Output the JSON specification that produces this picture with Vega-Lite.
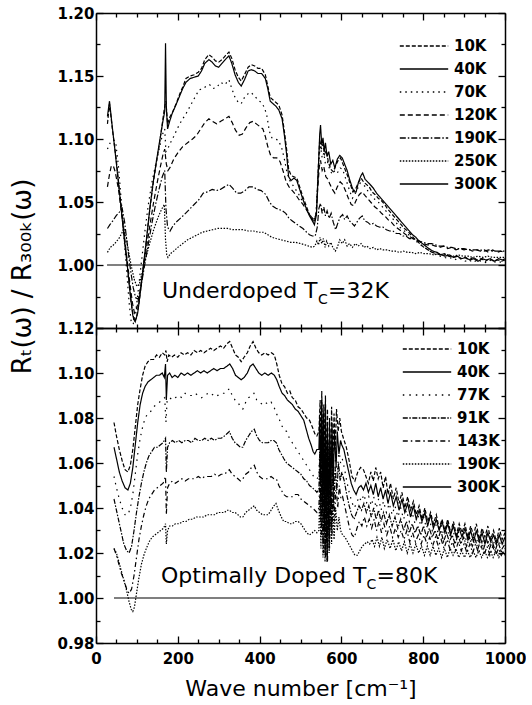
{
"$schema":"https://vega.github.io/schema/vega-lite/v6.json",
"padding":{"left":9,"top":6,"right":0,"bottom":0},
"spacing":0,
"bounds":"flush",
"datasets":{
"top":[
{"s":"10K","x":28,"y":1.112},{"s":"10K","x":33,"y":1.128},{"s":"10K","x":40,"y":1.108},{"s":"10K","x":49,"y":1.085},{"s":"10K","x":57,"y":1.06},{"s":"10K","x":65,"y":1.038},{"s":"10K","x":72,"y":1.015},{"s":"10K","x":78,"y":0.995},{"s":"10K","x":86,"y":0.97},{"s":"10K","x":93,"y":0.955},{"s":"10K","x":99,"y":0.958},{"s":"10K","x":106,"y":0.972},{"s":"10K","x":114,"y":0.993},{"s":"10K","x":122,"y":1.016},{"s":"10K","x":130,"y":1.04},{"s":"10K","x":139,"y":1.063},{"s":"10K","x":147,"y":1.08},{"s":"10K","x":155,"y":1.096},{"s":"10K","x":162,"y":1.112},{"s":"10K","x":167,"y":1.124},{"s":"10K","x":171,"y":1.13},{"s":"10K","x":175,"y":1.112},{"s":"10K","x":180,"y":1.117},{"s":"10K","x":188,"y":1.122},{"s":"10K","x":196,"y":1.128},{"s":"10K","x":205,"y":1.136},{"s":"10K","x":213,"y":1.142},{"s":"10K","x":220,"y":1.148},{"s":"10K","x":230,"y":1.15},{"s":"10K","x":240,"y":1.151},{"s":"10K","x":250,"y":1.153},{"s":"10K","x":258,"y":1.156},{"s":"10K","x":266,"y":1.163},{"s":"10K","x":276,"y":1.167},{"s":"10K","x":284,"y":1.165},{"s":"10K","x":292,"y":1.162},{"s":"10K","x":300,"y":1.161},{"s":"10K","x":308,"y":1.163},{"s":"10K","x":316,"y":1.166},{"s":"10K","x":325,"y":1.169},{"s":"10K","x":332,"y":1.164},{"s":"10K","x":340,"y":1.155},{"s":"10K","x":348,"y":1.149},{"s":"10K","x":355,"y":1.146},{"s":"10K","x":363,"y":1.151},{"s":"10K","x":372,"y":1.157},{"s":"10K","x":380,"y":1.159},{"s":"10K","x":388,"y":1.158},{"s":"10K","x":396,"y":1.156},{"s":"10K","x":405,"y":1.156},{"s":"10K","x":414,"y":1.151},{"s":"10K","x":420,"y":1.142},{"s":"10K","x":426,"y":1.133},{"s":"10K","x":433,"y":1.131},{"s":"10K","x":440,"y":1.129},{"s":"10K","x":447,"y":1.127},{"s":"10K","x":455,"y":1.119},{"s":"10K","x":461,"y":1.105},{"s":"10K","x":466,"y":1.092},{"s":"10K","x":471,"y":1.076},{"s":"10K","x":477,"y":1.071},{"s":"10K","x":484,"y":1.07},{"s":"10K","x":491,"y":1.069},{"s":"10K","x":498,"y":1.062},{"s":"10K","x":506,"y":1.054},{"s":"10K","x":514,"y":1.047},{"s":"10K","x":522,"y":1.04},{"s":"10K","x":529,"y":1.036},{"s":"10K","x":534,"y":1.034},{"s":"10K","x":539,"y":1.042},{"s":"10K","x":543,"y":1.075},{"s":"10K","x":547,"y":1.1},{"s":"10K","x":551,"y":1.092},{"s":"10K","x":555,"y":1.096},{"s":"10K","x":559,"y":1.088},{"s":"10K","x":563,"y":1.091},{"s":"10K","x":568,"y":1.082},{"s":"10K","x":574,"y":1.076},{"s":"10K","x":580,"y":1.074},{"s":"10K","x":586,"y":1.079},{"s":"10K","x":592,"y":1.083},{"s":"10K","x":598,"y":1.085},{"s":"10K","x":604,"y":1.08},{"s":"10K","x":610,"y":1.075},{"s":"10K","x":616,"y":1.07},{"s":"10K","x":622,"y":1.064},{"s":"10K","x":628,"y":1.058},{"s":"10K","x":634,"y":1.06},{"s":"10K","x":641,"y":1.065},{"s":"10K","x":648,"y":1.069},{"s":"10K","x":654,"y":1.066},{"s":"10K","x":661,"y":1.064},{"s":"10K","x":668,"y":1.062},{"s":"10K","x":675,"y":1.058},{"s":"10K","x":682,"y":1.056},{"s":"10K","x":690,"y":1.053},{"s":"10K","x":698,"y":1.051},{"s":"10K","x":706,"y":1.048},{"s":"10K","x":714,"y":1.044},{"s":"10K","x":722,"y":1.041},{"s":"10K","x":730,"y":1.038},{"s":"10K","x":738,"y":1.035},{"s":"10K","x":746,"y":1.032},{"s":"10K","x":754,"y":1.029},{"s":"10K","x":762,"y":1.027},{"s":"10K","x":770,"y":1.024},{"s":"10K","x":778,"y":1.021},{"s":"10K","x":786,"y":1.019},{"s":"10K","x":794,"y":1.016},{"s":"10K","x":802,"y":1.014},{"s":"10K","x":812,"y":1.012},{"s":"10K","x":822,"y":1.01},{"s":"10K","x":832,"y":1.009},{"s":"10K","x":842,"y":1.008},{"s":"10K","x":852,"y":1.009},{"s":"10K","x":862,"y":1.007},{"s":"10K","x":872,"y":1.006},{"s":"10K","x":882,"y":1.007},{"s":"10K","x":892,"y":1.005},{"s":"10K","x":902,"y":1.006},{"s":"10K","x":912,"y":1.004},{"s":"10K","x":922,"y":1.006},{"s":"10K","x":932,"y":1.004},{"s":"10K","x":942,"y":1.005},{"s":"10K","x":952,"y":1.003},{"s":"10K","x":962,"y":1.005},{"s":"10K","x":972,"y":1.003},{"s":"10K","x":982,"y":1.004},{"s":"10K","x":992,"y":1.003},{"s":"10K","x":1000,"y":1.004},
{"s":"40K","x":28,"y":1.118},{"s":"40K","x":33,"y":1.13},{"s":"40K","x":39,"y":1.112},{"s":"40K","x":46,"y":1.092},{"s":"40K","x":54,"y":1.068},{"s":"40K","x":62,"y":1.043},{"s":"40K","x":70,"y":1.018},{"s":"40K","x":77,"y":0.998},{"s":"40K","x":84,"y":0.976},{"s":"40K","x":90,"y":0.96},{"s":"40K","x":96,"y":0.955},{"s":"40K","x":102,"y":0.962},{"s":"40K","x":109,"y":0.98},{"s":"40K","x":116,"y":1.0},{"s":"40K","x":124,"y":1.022},{"s":"40K","x":132,"y":1.046},{"s":"40K","x":140,"y":1.066},{"s":"40K","x":148,"y":1.083},{"s":"40K","x":156,"y":1.099},{"s":"40K","x":163,"y":1.113},{"s":"40K","x":168,"y":1.122},{"s":"40K","x":170,"y":1.176},{"s":"40K","x":172,"y":1.125},{"s":"40K","x":175,"y":1.108},{"s":"40K","x":180,"y":1.114},{"s":"40K","x":186,"y":1.12},{"s":"40K","x":194,"y":1.126},{"s":"40K","x":203,"y":1.133},{"s":"40K","x":212,"y":1.14},{"s":"40K","x":220,"y":1.145},{"s":"40K","x":230,"y":1.148},{"s":"40K","x":240,"y":1.149},{"s":"40K","x":250,"y":1.15},{"s":"40K","x":258,"y":1.154},{"s":"40K","x":266,"y":1.16},{"s":"40K","x":276,"y":1.163},{"s":"40K","x":284,"y":1.161},{"s":"40K","x":292,"y":1.158},{"s":"40K","x":300,"y":1.157},{"s":"40K","x":308,"y":1.16},{"s":"40K","x":316,"y":1.163},{"s":"40K","x":325,"y":1.166},{"s":"40K","x":332,"y":1.16},{"s":"40K","x":340,"y":1.151},{"s":"40K","x":348,"y":1.145},{"s":"40K","x":355,"y":1.142},{"s":"40K","x":363,"y":1.147},{"s":"40K","x":372,"y":1.154},{"s":"40K","x":380,"y":1.155},{"s":"40K","x":388,"y":1.154},{"s":"40K","x":396,"y":1.152},{"s":"40K","x":405,"y":1.152},{"s":"40K","x":414,"y":1.148},{"s":"40K","x":420,"y":1.14},{"s":"40K","x":426,"y":1.13},{"s":"40K","x":433,"y":1.128},{"s":"40K","x":440,"y":1.126},{"s":"40K","x":447,"y":1.123},{"s":"40K","x":455,"y":1.116},{"s":"40K","x":461,"y":1.102},{"s":"40K","x":466,"y":1.088},{"s":"40K","x":471,"y":1.07},{"s":"40K","x":477,"y":1.067},{"s":"40K","x":484,"y":1.069},{"s":"40K","x":491,"y":1.067},{"s":"40K","x":498,"y":1.06},{"s":"40K","x":506,"y":1.052},{"s":"40K","x":514,"y":1.045},{"s":"40K","x":522,"y":1.039},{"s":"40K","x":529,"y":1.035},{"s":"40K","x":534,"y":1.032},{"s":"40K","x":539,"y":1.04},{"s":"40K","x":543,"y":1.07},{"s":"40K","x":547,"y":1.104},{"s":"40K","x":549,"y":1.111},{"s":"40K","x":552,"y":1.095},{"s":"40K","x":555,"y":1.101},{"s":"40K","x":558,"y":1.09},{"s":"40K","x":561,"y":1.097},{"s":"40K","x":565,"y":1.086},{"s":"40K","x":569,"y":1.09},{"s":"40K","x":574,"y":1.08},{"s":"40K","x":579,"y":1.083},{"s":"40K","x":584,"y":1.077},{"s":"40K","x":590,"y":1.084},{"s":"40K","x":596,"y":1.087},{"s":"40K","x":602,"y":1.085},{"s":"40K","x":608,"y":1.08},{"s":"40K","x":614,"y":1.075},{"s":"40K","x":620,"y":1.068},{"s":"40K","x":626,"y":1.062},{"s":"40K","x":631,"y":1.058},{"s":"40K","x":636,"y":1.058},{"s":"40K","x":642,"y":1.066},{"s":"40K","x":648,"y":1.071},{"s":"40K","x":652,"y":1.073},{"s":"40K","x":658,"y":1.068},{"s":"40K","x":664,"y":1.066},{"s":"40K","x":670,"y":1.064},{"s":"40K","x":678,"y":1.061},{"s":"40K","x":686,"y":1.057},{"s":"40K","x":694,"y":1.054},{"s":"40K","x":702,"y":1.051},{"s":"40K","x":710,"y":1.048},{"s":"40K","x":718,"y":1.045},{"s":"40K","x":726,"y":1.042},{"s":"40K","x":734,"y":1.039},{"s":"40K","x":742,"y":1.036},{"s":"40K","x":750,"y":1.033},{"s":"40K","x":758,"y":1.03},{"s":"40K","x":766,"y":1.027},{"s":"40K","x":774,"y":1.024},{"s":"40K","x":782,"y":1.022},{"s":"40K","x":790,"y":1.019},{"s":"40K","x":798,"y":1.017},{"s":"40K","x":806,"y":1.015},{"s":"40K","x":814,"y":1.013},{"s":"40K","x":824,"y":1.011},{"s":"40K","x":834,"y":1.01},{"s":"40K","x":844,"y":1.008},{"s":"40K","x":854,"y":1.007},{"s":"40K","x":864,"y":1.008},{"s":"40K","x":874,"y":1.006},{"s":"40K","x":884,"y":1.007},{"s":"40K","x":894,"y":1.005},{"s":"40K","x":904,"y":1.006},{"s":"40K","x":914,"y":1.004},{"s":"40K","x":924,"y":1.005},{"s":"40K","x":934,"y":1.003},{"s":"40K","x":944,"y":1.005},{"s":"40K","x":954,"y":1.004},{"s":"40K","x":964,"y":1.005},{"s":"40K","x":974,"y":1.003},{"s":"40K","x":984,"y":1.005},{"s":"40K","x":994,"y":1.004},{"s":"40K","x":1000,"y":1.005},
{"s":"70K","x":28,"y":1.092},{"s":"70K","x":36,"y":1.098},{"s":"70K","x":43,"y":1.099},{"s":"70K","x":48,"y":1.098},{"s":"70K","x":55,"y":1.078},{"s":"70K","x":62,"y":1.05},{"s":"70K","x":69,"y":1.02},{"s":"70K","x":75,"y":0.995},{"s":"70K","x":81,"y":0.97},{"s":"70K","x":86,"y":0.955},{"s":"70K","x":91,"y":0.953},{"s":"70K","x":97,"y":0.962},{"s":"70K","x":104,"y":0.982},{"s":"70K","x":112,"y":1.005},{"s":"70K","x":120,"y":1.028},{"s":"70K","x":128,"y":1.048},{"s":"70K","x":137,"y":1.066},{"s":"70K","x":146,"y":1.08},{"s":"70K","x":155,"y":1.093},{"s":"70K","x":163,"y":1.104},{"s":"70K","x":168,"y":1.108},{"s":"70K","x":171,"y":1.09},{"s":"70K","x":175,"y":1.092},{"s":"70K","x":182,"y":1.097},{"s":"70K","x":190,"y":1.102},{"s":"70K","x":200,"y":1.109},{"s":"70K","x":210,"y":1.115},{"s":"70K","x":220,"y":1.12},{"s":"70K","x":230,"y":1.126},{"s":"70K","x":240,"y":1.132},{"s":"70K","x":252,"y":1.139},{"s":"70K","x":262,"y":1.14},{"s":"70K","x":270,"y":1.142},{"s":"70K","x":278,"y":1.143},{"s":"70K","x":286,"y":1.14},{"s":"70K","x":295,"y":1.141},{"s":"70K","x":305,"y":1.145},{"s":"70K","x":315,"y":1.143},{"s":"70K","x":325,"y":1.147},{"s":"70K","x":332,"y":1.14},{"s":"70K","x":340,"y":1.133},{"s":"70K","x":348,"y":1.129},{"s":"70K","x":355,"y":1.128},{"s":"70K","x":363,"y":1.133},{"s":"70K","x":372,"y":1.136},{"s":"70K","x":379,"y":1.137},{"s":"70K","x":388,"y":1.134},{"s":"70K","x":396,"y":1.131},{"s":"70K","x":404,"y":1.129},{"s":"70K","x":412,"y":1.125},{"s":"70K","x":418,"y":1.118},{"s":"70K","x":424,"y":1.106},{"s":"70K","x":430,"y":1.101},{"s":"70K","x":438,"y":1.1},{"s":"70K","x":446,"y":1.099},{"s":"70K","x":454,"y":1.093},{"s":"70K","x":460,"y":1.085},{"s":"70K","x":466,"y":1.075},{"s":"70K","x":472,"y":1.068},{"s":"70K","x":480,"y":1.064},{"s":"70K","x":488,"y":1.06},{"s":"70K","x":496,"y":1.056},{"s":"70K","x":504,"y":1.051},{"s":"70K","x":512,"y":1.046},{"s":"70K","x":520,"y":1.041},{"s":"70K","x":527,"y":1.037},{"s":"70K","x":533,"y":1.035},{"s":"70K","x":538,"y":1.04},{"s":"70K","x":542,"y":1.065},{"s":"70K","x":546,"y":1.088},{"s":"70K","x":549,"y":1.094},{"s":"70K","x":553,"y":1.085},{"s":"70K","x":557,"y":1.089},{"s":"70K","x":561,"y":1.08},{"s":"70K","x":566,"y":1.082},{"s":"70K","x":572,"y":1.075},{"s":"70K","x":578,"y":1.072},{"s":"70K","x":584,"y":1.075},{"s":"70K","x":590,"y":1.073},{"s":"70K","x":597,"y":1.077},{"s":"70K","x":603,"y":1.076},{"s":"70K","x":609,"y":1.07},{"s":"70K","x":615,"y":1.064},{"s":"70K","x":621,"y":1.058},{"s":"70K","x":627,"y":1.053},{"s":"70K","x":633,"y":1.056},{"s":"70K","x":640,"y":1.061},{"s":"70K","x":646,"y":1.065},{"s":"70K","x":652,"y":1.064},{"s":"70K","x":659,"y":1.062},{"s":"70K","x":666,"y":1.058},{"s":"70K","x":674,"y":1.055},{"s":"70K","x":682,"y":1.052},{"s":"70K","x":690,"y":1.05},{"s":"70K","x":698,"y":1.047},{"s":"70K","x":706,"y":1.044},{"s":"70K","x":714,"y":1.041},{"s":"70K","x":722,"y":1.038},{"s":"70K","x":730,"y":1.035},{"s":"70K","x":738,"y":1.032},{"s":"70K","x":746,"y":1.029},{"s":"70K","x":754,"y":1.027},{"s":"70K","x":762,"y":1.025},{"s":"70K","x":770,"y":1.022},{"s":"70K","x":778,"y":1.02},{"s":"70K","x":786,"y":1.018},{"s":"70K","x":794,"y":1.016},{"s":"70K","x":802,"y":1.014},{"s":"70K","x":812,"y":1.012},{"s":"70K","x":822,"y":1.01},{"s":"70K","x":832,"y":1.008},{"s":"70K","x":842,"y":1.007},{"s":"70K","x":852,"y":1.006},{"s":"70K","x":862,"y":1.005},{"s":"70K","x":872,"y":1.006},{"s":"70K","x":882,"y":1.004},{"s":"70K","x":892,"y":1.005},{"s":"70K","x":902,"y":1.003},{"s":"70K","x":912,"y":1.004},{"s":"70K","x":922,"y":1.002},{"s":"70K","x":932,"y":1.004},{"s":"70K","x":942,"y":1.003},{"s":"70K","x":952,"y":1.002},{"s":"70K","x":962,"y":1.004},{"s":"70K","x":972,"y":1.002},{"s":"70K","x":982,"y":1.003},{"s":"70K","x":992,"y":1.002},{"s":"70K","x":1000,"y":1.003},
{"s":"120K","x":28,"y":1.062},{"s":"120K","x":33,"y":1.072},{"s":"120K","x":37,"y":1.078},{"s":"120K","x":42,"y":1.079},{"s":"120K","x":47,"y":1.074},{"s":"120K","x":55,"y":1.06},{"s":"120K","x":63,"y":1.04},{"s":"120K","x":70,"y":1.02},{"s":"120K","x":77,"y":1.002},{"s":"120K","x":83,"y":0.985},{"s":"120K","x":89,"y":0.97},{"s":"120K","x":94,"y":0.962},{"s":"120K","x":100,"y":0.966},{"s":"120K","x":107,"y":0.978},{"s":"120K","x":115,"y":0.995},{"s":"120K","x":123,"y":1.013},{"s":"120K","x":132,"y":1.032},{"s":"120K","x":141,"y":1.05},{"s":"120K","x":150,"y":1.066},{"s":"120K","x":158,"y":1.079},{"s":"120K","x":164,"y":1.088},{"s":"120K","x":168,"y":1.092},{"s":"120K","x":172,"y":1.08},{"s":"120K","x":176,"y":1.075},{"s":"120K","x":182,"y":1.078},{"s":"120K","x":190,"y":1.084},{"s":"120K","x":200,"y":1.089},{"s":"120K","x":212,"y":1.094},{"s":"120K","x":224,"y":1.097},{"s":"120K","x":236,"y":1.1},{"s":"120K","x":246,"y":1.103},{"s":"120K","x":256,"y":1.108},{"s":"120K","x":266,"y":1.113},{"s":"120K","x":276,"y":1.116},{"s":"120K","x":285,"y":1.114},{"s":"120K","x":295,"y":1.112},{"s":"120K","x":305,"y":1.114},{"s":"120K","x":315,"y":1.116},{"s":"120K","x":325,"y":1.118},{"s":"120K","x":333,"y":1.113},{"s":"120K","x":341,"y":1.107},{"s":"120K","x":350,"y":1.103},{"s":"120K","x":358,"y":1.104},{"s":"120K","x":367,"y":1.109},{"s":"120K","x":376,"y":1.113},{"s":"120K","x":384,"y":1.114},{"s":"120K","x":392,"y":1.112},{"s":"120K","x":400,"y":1.11},{"s":"120K","x":408,"y":1.108},{"s":"120K","x":414,"y":1.102},{"s":"120K","x":420,"y":1.094},{"s":"120K","x":427,"y":1.087},{"s":"120K","x":434,"y":1.085},{"s":"120K","x":442,"y":1.085},{"s":"120K","x":450,"y":1.082},{"s":"120K","x":458,"y":1.074},{"s":"120K","x":465,"y":1.066},{"s":"120K","x":472,"y":1.062},{"s":"120K","x":480,"y":1.059},{"s":"120K","x":488,"y":1.056},{"s":"120K","x":496,"y":1.052},{"s":"120K","x":504,"y":1.049},{"s":"120K","x":512,"y":1.045},{"s":"120K","x":520,"y":1.041},{"s":"120K","x":527,"y":1.038},{"s":"120K","x":533,"y":1.036},{"s":"120K","x":538,"y":1.04},{"s":"120K","x":542,"y":1.06},{"s":"120K","x":546,"y":1.078},{"s":"120K","x":549,"y":1.083},{"s":"120K","x":553,"y":1.075},{"s":"120K","x":557,"y":1.078},{"s":"120K","x":562,"y":1.07},{"s":"120K","x":567,"y":1.068},{"s":"120K","x":572,"y":1.064},{"s":"120K","x":578,"y":1.06},{"s":"120K","x":584,"y":1.057},{"s":"120K","x":590,"y":1.062},{"s":"120K","x":597,"y":1.066},{"s":"120K","x":603,"y":1.064},{"s":"120K","x":610,"y":1.059},{"s":"120K","x":617,"y":1.053},{"s":"120K","x":624,"y":1.048},{"s":"120K","x":630,"y":1.047},{"s":"120K","x":637,"y":1.052},{"s":"120K","x":644,"y":1.056},{"s":"120K","x":651,"y":1.058},{"s":"120K","x":658,"y":1.055},{"s":"120K","x":666,"y":1.052},{"s":"120K","x":674,"y":1.049},{"s":"120K","x":682,"y":1.046},{"s":"120K","x":690,"y":1.044},{"s":"120K","x":698,"y":1.041},{"s":"120K","x":706,"y":1.039},{"s":"120K","x":714,"y":1.036},{"s":"120K","x":722,"y":1.034},{"s":"120K","x":730,"y":1.031},{"s":"120K","x":738,"y":1.029},{"s":"120K","x":746,"y":1.027},{"s":"120K","x":754,"y":1.025},{"s":"120K","x":762,"y":1.023},{"s":"120K","x":770,"y":1.022},{"s":"120K","x":780,"y":1.02},{"s":"120K","x":790,"y":1.019},{"s":"120K","x":800,"y":1.017},{"s":"120K","x":810,"y":1.016},{"s":"120K","x":820,"y":1.016},{"s":"120K","x":830,"y":1.015},{"s":"120K","x":840,"y":1.014},{"s":"120K","x":850,"y":1.015},{"s":"120K","x":860,"y":1.013},{"s":"120K","x":870,"y":1.014},{"s":"120K","x":880,"y":1.012},{"s":"120K","x":890,"y":1.013},{"s":"120K","x":900,"y":1.012},{"s":"120K","x":910,"y":1.013},{"s":"120K","x":920,"y":1.011},{"s":"120K","x":930,"y":1.012},{"s":"120K","x":940,"y":1.011},{"s":"120K","x":950,"y":1.012},{"s":"120K","x":960,"y":1.01},{"s":"120K","x":970,"y":1.012},{"s":"120K","x":980,"y":1.01},{"s":"120K","x":990,"y":1.011},{"s":"120K","x":1000,"y":1.01},
{"s":"190K","x":28,"y":1.029},{"s":"190K","x":34,"y":1.032},{"s":"190K","x":41,"y":1.035},{"s":"190K","x":49,"y":1.039},{"s":"190K","x":57,"y":1.042},{"s":"190K","x":64,"y":1.045},{"s":"190K","x":70,"y":1.034},{"s":"190K","x":77,"y":1.015},{"s":"190K","x":84,"y":0.997},{"s":"190K","x":91,"y":0.982},{"s":"190K","x":97,"y":0.974},{"s":"190K","x":103,"y":0.973},{"s":"190K","x":110,"y":0.983},{"s":"190K","x":118,"y":0.998},{"s":"190K","x":127,"y":1.015},{"s":"190K","x":136,"y":1.032},{"s":"190K","x":145,"y":1.047},{"s":"190K","x":154,"y":1.06},{"s":"190K","x":162,"y":1.07},{"s":"190K","x":168,"y":1.075},{"s":"190K","x":171,"y":1.045},{"s":"190K","x":175,"y":1.03},{"s":"190K","x":181,"y":1.027},{"s":"190K","x":188,"y":1.031},{"s":"190K","x":196,"y":1.034},{"s":"190K","x":206,"y":1.037},{"s":"190K","x":216,"y":1.04},{"s":"190K","x":228,"y":1.044},{"s":"190K","x":240,"y":1.048},{"s":"190K","x":252,"y":1.052},{"s":"190K","x":262,"y":1.057},{"s":"190K","x":272,"y":1.058},{"s":"190K","x":284,"y":1.06},{"s":"190K","x":294,"y":1.059},{"s":"190K","x":304,"y":1.06},{"s":"190K","x":314,"y":1.062},{"s":"190K","x":325,"y":1.064},{"s":"190K","x":334,"y":1.061},{"s":"190K","x":344,"y":1.057},{"s":"190K","x":354,"y":1.057},{"s":"190K","x":364,"y":1.059},{"s":"190K","x":374,"y":1.062},{"s":"190K","x":384,"y":1.062},{"s":"190K","x":394,"y":1.06},{"s":"190K","x":404,"y":1.059},{"s":"190K","x":415,"y":1.056},{"s":"190K","x":424,"y":1.05},{"s":"190K","x":431,"y":1.047},{"s":"190K","x":440,"y":1.045},{"s":"190K","x":448,"y":1.044},{"s":"190K","x":456,"y":1.043},{"s":"190K","x":464,"y":1.041},{"s":"190K","x":472,"y":1.037},{"s":"190K","x":480,"y":1.035},{"s":"190K","x":488,"y":1.033},{"s":"190K","x":497,"y":1.031},{"s":"190K","x":506,"y":1.029},{"s":"190K","x":515,"y":1.026},{"s":"190K","x":522,"y":1.024},{"s":"190K","x":529,"y":1.023},{"s":"190K","x":536,"y":1.023},{"s":"190K","x":541,"y":1.03},{"s":"190K","x":545,"y":1.045},{"s":"190K","x":549,"y":1.049},{"s":"190K","x":553,"y":1.041},{"s":"190K","x":557,"y":1.046},{"s":"190K","x":561,"y":1.039},{"s":"190K","x":565,"y":1.043},{"s":"190K","x":570,"y":1.037},{"s":"190K","x":575,"y":1.041},{"s":"190K","x":580,"y":1.034},{"s":"190K","x":586,"y":1.028},{"s":"190K","x":591,"y":1.033},{"s":"190K","x":597,"y":1.038},{"s":"190K","x":603,"y":1.04},{"s":"190K","x":608,"y":1.036},{"s":"190K","x":614,"y":1.039},{"s":"190K","x":620,"y":1.035},{"s":"190K","x":626,"y":1.033},{"s":"190K","x":632,"y":1.031},{"s":"190K","x":638,"y":1.034},{"s":"190K","x":644,"y":1.037},{"s":"190K","x":651,"y":1.039},{"s":"190K","x":657,"y":1.035},{"s":"190K","x":664,"y":1.034},{"s":"190K","x":671,"y":1.032},{"s":"190K","x":678,"y":1.033},{"s":"190K","x":686,"y":1.031},{"s":"190K","x":694,"y":1.03},{"s":"190K","x":702,"y":1.03},{"s":"190K","x":710,"y":1.028},{"s":"190K","x":718,"y":1.027},{"s":"190K","x":726,"y":1.027},{"s":"190K","x":734,"y":1.025},{"s":"190K","x":742,"y":1.025},{"s":"190K","x":750,"y":1.023},{"s":"190K","x":758,"y":1.023},{"s":"190K","x":766,"y":1.021},{"s":"190K","x":774,"y":1.021},{"s":"190K","x":782,"y":1.02},{"s":"190K","x":790,"y":1.019},{"s":"190K","x":800,"y":1.018},{"s":"190K","x":810,"y":1.017},{"s":"190K","x":820,"y":1.017},{"s":"190K","x":830,"y":1.016},{"s":"190K","x":840,"y":1.015},{"s":"190K","x":850,"y":1.015},{"s":"190K","x":860,"y":1.014},{"s":"190K","x":870,"y":1.014},{"s":"190K","x":880,"y":1.013},{"s":"190K","x":890,"y":1.013},{"s":"190K","x":900,"y":1.013},{"s":"190K","x":910,"y":1.012},{"s":"190K","x":920,"y":1.012},{"s":"190K","x":930,"y":1.012},{"s":"190K","x":940,"y":1.012},{"s":"190K","x":950,"y":1.011},{"s":"190K","x":960,"y":1.012},{"s":"190K","x":970,"y":1.011},{"s":"190K","x":980,"y":1.011},{"s":"190K","x":990,"y":1.011},{"s":"190K","x":1000,"y":1.011},
{"s":"250K","x":28,"y":1.01},{"s":"250K","x":35,"y":1.014},{"s":"250K","x":43,"y":1.016},{"s":"250K","x":51,"y":1.019},{"s":"250K","x":58,"y":1.022},{"s":"250K","x":64,"y":1.026},{"s":"250K","x":68,"y":1.029},{"s":"250K","x":74,"y":1.022},{"s":"250K","x":80,"y":1.01},{"s":"250K","x":87,"y":0.998},{"s":"250K","x":94,"y":0.988},{"s":"250K","x":100,"y":0.983},{"s":"250K","x":106,"y":0.985},{"s":"250K","x":113,"y":0.994},{"s":"250K","x":122,"y":1.006},{"s":"250K","x":132,"y":1.018},{"s":"250K","x":142,"y":1.029},{"s":"250K","x":152,"y":1.038},{"s":"250K","x":160,"y":1.044},{"s":"250K","x":167,"y":1.048},{"s":"250K","x":170,"y":1.02},{"s":"250K","x":173,"y":1.008},{"s":"250K","x":176,"y":1.006},{"s":"250K","x":182,"y":1.009},{"s":"250K","x":190,"y":1.011},{"s":"250K","x":200,"y":1.014},{"s":"250K","x":212,"y":1.017},{"s":"250K","x":224,"y":1.02},{"s":"250K","x":236,"y":1.022},{"s":"250K","x":248,"y":1.024},{"s":"250K","x":260,"y":1.026},{"s":"250K","x":272,"y":1.027},{"s":"250K","x":285,"y":1.028},{"s":"250K","x":298,"y":1.029},{"s":"250K","x":310,"y":1.029},{"s":"250K","x":322,"y":1.029},{"s":"250K","x":335,"y":1.028},{"s":"250K","x":348,"y":1.028},{"s":"250K","x":360,"y":1.028},{"s":"250K","x":372,"y":1.027},{"s":"250K","x":385,"y":1.027},{"s":"250K","x":398,"y":1.026},{"s":"250K","x":410,"y":1.026},{"s":"250K","x":420,"y":1.024},{"s":"250K","x":430,"y":1.022},{"s":"250K","x":440,"y":1.021},{"s":"250K","x":452,"y":1.02},{"s":"250K","x":464,"y":1.019},{"s":"250K","x":476,"y":1.018},{"s":"250K","x":488,"y":1.018},{"s":"250K","x":500,"y":1.017},{"s":"250K","x":511,"y":1.016},{"s":"250K","x":520,"y":1.015},{"s":"250K","x":529,"y":1.014},{"s":"250K","x":535,"y":1.015},{"s":"250K","x":540,"y":1.019},{"s":"250K","x":544,"y":1.016},{"s":"250K","x":548,"y":1.022},{"s":"250K","x":552,"y":1.017},{"s":"250K","x":556,"y":1.021},{"s":"250K","x":560,"y":1.014},{"s":"250K","x":564,"y":1.019},{"s":"250K","x":569,"y":1.015},{"s":"250K","x":574,"y":1.018},{"s":"250K","x":579,"y":1.014},{"s":"250K","x":585,"y":1.011},{"s":"250K","x":590,"y":1.014},{"s":"250K","x":596,"y":1.02},{"s":"250K","x":602,"y":1.017},{"s":"250K","x":608,"y":1.02},{"s":"250K","x":614,"y":1.015},{"s":"250K","x":620,"y":1.017},{"s":"250K","x":627,"y":1.014},{"s":"250K","x":634,"y":1.017},{"s":"250K","x":641,"y":1.015},{"s":"250K","x":648,"y":1.017},{"s":"250K","x":655,"y":1.014},{"s":"250K","x":662,"y":1.015},{"s":"250K","x":670,"y":1.013},{"s":"250K","x":678,"y":1.014},{"s":"250K","x":686,"y":1.012},{"s":"250K","x":694,"y":1.013},{"s":"250K","x":702,"y":1.012},{"s":"250K","x":712,"y":1.012},{"s":"250K","x":722,"y":1.011},{"s":"250K","x":732,"y":1.011},{"s":"250K","x":742,"y":1.01},{"s":"250K","x":752,"y":1.011},{"s":"250K","x":762,"y":1.01},{"s":"250K","x":772,"y":1.01},{"s":"250K","x":782,"y":1.009},{"s":"250K","x":792,"y":1.01},{"s":"250K","x":802,"y":1.009},{"s":"250K","x":814,"y":1.009},{"s":"250K","x":826,"y":1.008},{"s":"250K","x":838,"y":1.009},{"s":"250K","x":850,"y":1.008},{"s":"250K","x":862,"y":1.008},{"s":"250K","x":874,"y":1.007},{"s":"250K","x":886,"y":1.008},{"s":"250K","x":898,"y":1.007},{"s":"250K","x":910,"y":1.007},{"s":"250K","x":922,"y":1.006},{"s":"250K","x":934,"y":1.007},{"s":"250K","x":946,"y":1.006},{"s":"250K","x":958,"y":1.007},{"s":"250K","x":970,"y":1.006},{"s":"250K","x":982,"y":1.006},{"s":"250K","x":994,"y":1.006},{"s":"250K","x":1000,"y":1.006},
{"s":"300K","x":27,"y":1.0},{"s":"300K","x":1000,"y":1.0}
],
"bot":[
{"s":"10K","x":44,"y":1.078},{"s":"10K","x":50,"y":1.072},{"s":"10K","x":57,"y":1.066},{"s":"10K","x":64,"y":1.061},{"s":"10K","x":71,"y":1.057},{"s":"10K","x":78,"y":1.056},{"s":"10K","x":84,"y":1.059},{"s":"10K","x":90,"y":1.066},{"s":"10K","x":96,"y":1.076},{"s":"10K","x":102,"y":1.086},{"s":"10K","x":108,"y":1.093},{"s":"10K","x":114,"y":1.099},{"s":"10K","x":120,"y":1.103},{"s":"10K","x":127,"y":1.105},{"s":"10K","x":134,"y":1.106},{"s":"10K","x":141,"y":1.106},{"s":"10K","x":148,"y":1.108},{"s":"10K","x":155,"y":1.107},{"s":"10K","x":162,"y":1.109},{"s":"10K","x":168,"y":1.108},{"s":"10K","x":171,"y":1.11},{"s":"10K","x":174,"y":1.105},{"s":"10K","x":178,"y":1.108},{"s":"10K","x":185,"y":1.107},{"s":"10K","x":192,"y":1.108},{"s":"10K","x":200,"y":1.107},{"s":"10K","x":208,"y":1.109},{"s":"10K","x":216,"y":1.108},{"s":"10K","x":224,"y":1.109},{"s":"10K","x":232,"y":1.108},{"s":"10K","x":240,"y":1.11},{"s":"10K","x":248,"y":1.109},{"s":"10K","x":256,"y":1.11},{"s":"10K","x":264,"y":1.109},{"s":"10K","x":272,"y":1.11},{"s":"10K","x":280,"y":1.111},{"s":"10K","x":288,"y":1.11},{"s":"10K","x":296,"y":1.111},{"s":"10K","x":304,"y":1.112},{"s":"10K","x":312,"y":1.111},{"s":"10K","x":320,"y":1.113},{"s":"10K","x":327,"y":1.114},{"s":"10K","x":334,"y":1.111},{"s":"10K","x":341,"y":1.108},{"s":"10K","x":348,"y":1.107},{"s":"10K","x":355,"y":1.105},{"s":"10K","x":362,"y":1.107},{"s":"10K","x":370,"y":1.109},{"s":"10K","x":377,"y":1.112},{"s":"10K","x":384,"y":1.114},{"s":"10K","x":391,"y":1.111},{"s":"10K","x":398,"y":1.109},{"s":"10K","x":405,"y":1.108},{"s":"10K","x":413,"y":1.109},{"s":"10K","x":421,"y":1.108},{"s":"10K","x":429,"y":1.109},{"s":"10K","x":436,"y":1.108},{"s":"10K","x":442,"y":1.104},{"s":"10K","x":448,"y":1.099},{"s":"10K","x":455,"y":1.095},{"s":"10K","x":461,"y":1.094},{"s":"10K","x":468,"y":1.091},{"s":"10K","x":474,"y":1.092},{"s":"10K","x":480,"y":1.089},{"s":"10K","x":487,"y":1.088},{"s":"10K","x":494,"y":1.085},{"s":"10K","x":501,"y":1.084},{"s":"10K","x":508,"y":1.082},{"s":"10K","x":515,"y":1.08},{"s":"10K","x":522,"y":1.079},{"s":"10K","x":529,"y":1.076},{"s":"10K","x":535,"y":1.073},{"s":"10K","x":540,"y":1.072},{"s":"10K","x":545,"y":1.074},{"s":"10K","x":548,"y":1.088},{"s":"10K","x":550,"y":1.062},{"s":"10K","x":552,"y":1.092},{"s":"10K","x":555,"y":1.055},{"s":"10K","x":557,"y":1.086},{"s":"10K","x":559,"y":1.048},{"s":"10K","x":561,"y":1.09},{"s":"10K","x":563,"y":1.04},{"s":"10K","x":566,"y":1.084},{"s":"10K","x":568,"y":1.035},{"s":"10K","x":571,"y":1.08},{"s":"10K","x":573,"y":1.045},{"s":"10K","x":576,"y":1.085},{"s":"10K","x":579,"y":1.058},{"s":"10K","x":582,"y":1.082},{"s":"10K","x":585,"y":1.066},{"s":"10K","x":588,"y":1.084},{"s":"10K","x":592,"y":1.074},{"s":"10K","x":596,"y":1.08},{"s":"10K","x":600,"y":1.074},{"s":"10K","x":605,"y":1.071},{"s":"10K","x":612,"y":1.067},{"s":"10K","x":619,"y":1.061},{"s":"10K","x":626,"y":1.054},{"s":"10K","x":633,"y":1.052},{"s":"10K","x":640,"y":1.056},{"s":"10K","x":647,"y":1.058},{"s":"10K","x":654,"y":1.057},{"s":"10K","x":660,"y":1.054},{"s":"10K","x":666,"y":1.051},{"s":"10K","x":672,"y":1.056},{"s":"10K","x":678,"y":1.052},{"s":"10K","x":684,"y":1.058},{"s":"10K","x":690,"y":1.053},{"s":"10K","x":696,"y":1.056},{"s":"10K","x":702,"y":1.049},{"s":"10K","x":708,"y":1.054},{"s":"10K","x":714,"y":1.046},{"s":"10K","x":720,"y":1.051},{"s":"10K","x":727,"y":1.044},{"s":"10K","x":734,"y":1.049},{"s":"10K","x":741,"y":1.042},{"s":"10K","x":748,"y":1.047},{"s":"10K","x":755,"y":1.04},{"s":"10K","x":762,"y":1.045},{"s":"10K","x":769,"y":1.039},{"s":"10K","x":776,"y":1.043},{"s":"10K","x":783,"y":1.037},{"s":"10K","x":790,"y":1.041},{"s":"10K","x":797,"y":1.035},{"s":"10K","x":804,"y":1.04},{"s":"10K","x":811,"y":1.034},{"s":"10K","x":818,"y":1.038},{"s":"10K","x":825,"y":1.033},{"s":"10K","x":832,"y":1.037},{"s":"10K","x":839,"y":1.031},{"s":"10K","x":846,"y":1.035},{"s":"10K","x":853,"y":1.03},{"s":"10K","x":860,"y":1.035},{"s":"10K","x":867,"y":1.029},{"s":"10K","x":874,"y":1.034},{"s":"10K","x":881,"y":1.028},{"s":"10K","x":888,"y":1.033},{"s":"10K","x":895,"y":1.029},{"s":"10K","x":902,"y":1.033},{"s":"10K","x":909,"y":1.027},{"s":"10K","x":916,"y":1.032},{"s":"10K","x":923,"y":1.028},{"s":"10K","x":930,"y":1.033},{"s":"10K","x":937,"y":1.026},{"s":"10K","x":944,"y":1.031},{"s":"10K","x":951,"y":1.027},{"s":"10K","x":958,"y":1.032},{"s":"10K","x":965,"y":1.026},{"s":"10K","x":972,"y":1.03},{"s":"10K","x":979,"y":1.025},{"s":"10K","x":986,"y":1.031},{"s":"10K","x":993,"y":1.026},{"s":"10K","x":1000,"y":1.029},
{"s":"40K","x":44,"y":1.067},{"s":"40K","x":50,"y":1.062},{"s":"40K","x":57,"y":1.056},{"s":"40K","x":64,"y":1.052},{"s":"40K","x":71,"y":1.049},{"s":"40K","x":78,"y":1.048},{"s":"40K","x":84,"y":1.051},{"s":"40K","x":90,"y":1.058},{"s":"40K","x":96,"y":1.068},{"s":"40K","x":102,"y":1.078},{"s":"40K","x":108,"y":1.086},{"s":"40K","x":114,"y":1.091},{"s":"40K","x":120,"y":1.094},{"s":"40K","x":127,"y":1.096},{"s":"40K","x":134,"y":1.097},{"s":"40K","x":141,"y":1.098},{"s":"40K","x":148,"y":1.099},{"s":"40K","x":155,"y":1.099},{"s":"40K","x":162,"y":1.1},{"s":"40K","x":167,"y":1.098},{"s":"40K","x":170,"y":1.104},{"s":"40K","x":172,"y":1.088},{"s":"40K","x":175,"y":1.099},{"s":"40K","x":180,"y":1.1},{"s":"40K","x":186,"y":1.098},{"s":"40K","x":193,"y":1.099},{"s":"40K","x":200,"y":1.098},{"s":"40K","x":208,"y":1.1},{"s":"40K","x":216,"y":1.099},{"s":"40K","x":224,"y":1.1},{"s":"40K","x":232,"y":1.099},{"s":"40K","x":240,"y":1.1},{"s":"40K","x":248,"y":1.101},{"s":"40K","x":256,"y":1.1},{"s":"40K","x":264,"y":1.101},{"s":"40K","x":272,"y":1.1},{"s":"40K","x":280,"y":1.101},{"s":"40K","x":288,"y":1.102},{"s":"40K","x":296,"y":1.101},{"s":"40K","x":304,"y":1.102},{"s":"40K","x":312,"y":1.102},{"s":"40K","x":320,"y":1.103},{"s":"40K","x":327,"y":1.104},{"s":"40K","x":334,"y":1.102},{"s":"40K","x":341,"y":1.099},{"s":"40K","x":348,"y":1.098},{"s":"40K","x":355,"y":1.097},{"s":"40K","x":362,"y":1.098},{"s":"40K","x":370,"y":1.1},{"s":"40K","x":377,"y":1.103},{"s":"40K","x":384,"y":1.104},{"s":"40K","x":391,"y":1.102},{"s":"40K","x":398,"y":1.1},{"s":"40K","x":405,"y":1.099},{"s":"40K","x":413,"y":1.1},{"s":"40K","x":421,"y":1.099},{"s":"40K","x":429,"y":1.1},{"s":"40K","x":436,"y":1.099},{"s":"40K","x":442,"y":1.097},{"s":"40K","x":448,"y":1.094},{"s":"40K","x":455,"y":1.091},{"s":"40K","x":461,"y":1.09},{"s":"40K","x":468,"y":1.088},{"s":"40K","x":474,"y":1.087},{"s":"40K","x":480,"y":1.086},{"s":"40K","x":487,"y":1.084},{"s":"40K","x":494,"y":1.083},{"s":"40K","x":501,"y":1.081},{"s":"40K","x":508,"y":1.079},{"s":"40K","x":514,"y":1.075},{"s":"40K","x":520,"y":1.071},{"s":"40K","x":526,"y":1.068},{"s":"40K","x":531,"y":1.065},{"s":"40K","x":535,"y":1.064},{"s":"40K","x":540,"y":1.066},{"s":"40K","x":545,"y":1.066},{"s":"40K","x":547,"y":1.08},{"s":"40K","x":549,"y":1.052},{"s":"40K","x":552,"y":1.088},{"s":"40K","x":554,"y":1.04},{"s":"40K","x":556,"y":1.082},{"s":"40K","x":559,"y":1.03},{"s":"40K","x":561,"y":1.086},{"s":"40K","x":564,"y":1.025},{"s":"40K","x":566,"y":1.078},{"s":"40K","x":569,"y":1.03},{"s":"40K","x":572,"y":1.075},{"s":"40K","x":574,"y":1.04},{"s":"40K","x":577,"y":1.078},{"s":"40K","x":580,"y":1.05},{"s":"40K","x":583,"y":1.074},{"s":"40K","x":587,"y":1.058},{"s":"40K","x":590,"y":1.074},{"s":"40K","x":594,"y":1.064},{"s":"40K","x":598,"y":1.07},{"s":"40K","x":601,"y":1.068},{"s":"40K","x":606,"y":1.066},{"s":"40K","x":612,"y":1.061},{"s":"40K","x":618,"y":1.056},{"s":"40K","x":624,"y":1.051},{"s":"40K","x":630,"y":1.048},{"s":"40K","x":636,"y":1.046},{"s":"40K","x":642,"y":1.049},{"s":"40K","x":648,"y":1.05},{"s":"40K","x":654,"y":1.048},{"s":"40K","x":660,"y":1.051},{"s":"40K","x":666,"y":1.047},{"s":"40K","x":672,"y":1.05},{"s":"40K","x":678,"y":1.046},{"s":"40K","x":684,"y":1.051},{"s":"40K","x":690,"y":1.045},{"s":"40K","x":696,"y":1.049},{"s":"40K","x":702,"y":1.044},{"s":"40K","x":708,"y":1.048},{"s":"40K","x":714,"y":1.042},{"s":"40K","x":720,"y":1.047},{"s":"40K","x":727,"y":1.041},{"s":"40K","x":734,"y":1.045},{"s":"40K","x":741,"y":1.039},{"s":"40K","x":748,"y":1.044},{"s":"40K","x":755,"y":1.038},{"s":"40K","x":762,"y":1.042},{"s":"40K","x":769,"y":1.036},{"s":"40K","x":776,"y":1.041},{"s":"40K","x":783,"y":1.035},{"s":"40K","x":790,"y":1.039},{"s":"40K","x":797,"y":1.034},{"s":"40K","x":804,"y":1.038},{"s":"40K","x":811,"y":1.032},{"s":"40K","x":818,"y":1.037},{"s":"40K","x":825,"y":1.031},{"s":"40K","x":832,"y":1.035},{"s":"40K","x":839,"y":1.03},{"s":"40K","x":846,"y":1.034},{"s":"40K","x":853,"y":1.029},{"s":"40K","x":860,"y":1.033},{"s":"40K","x":867,"y":1.028},{"s":"40K","x":874,"y":1.032},{"s":"40K","x":881,"y":1.027},{"s":"40K","x":888,"y":1.031},{"s":"40K","x":895,"y":1.027},{"s":"40K","x":902,"y":1.031},{"s":"40K","x":909,"y":1.026},{"s":"40K","x":916,"y":1.03},{"s":"40K","x":923,"y":1.025},{"s":"40K","x":930,"y":1.03},{"s":"40K","x":937,"y":1.025},{"s":"40K","x":944,"y":1.029},{"s":"40K","x":951,"y":1.024},{"s":"40K","x":958,"y":1.029},{"s":"40K","x":965,"y":1.025},{"s":"40K","x":972,"y":1.028},{"s":"40K","x":979,"y":1.024},{"s":"40K","x":986,"y":1.028},{"s":"40K","x":993,"y":1.024},{"s":"40K","x":1000,"y":1.027},
{"s":"77K","x":44,"y":1.054},{"s":"77K","x":50,"y":1.049},{"s":"77K","x":57,"y":1.044},{"s":"77K","x":64,"y":1.04},{"s":"77K","x":71,"y":1.037},{"s":"77K","x":78,"y":1.037},{"s":"77K","x":84,"y":1.04},{"s":"77K","x":90,"y":1.046},{"s":"77K","x":96,"y":1.055},{"s":"77K","x":102,"y":1.064},{"s":"77K","x":108,"y":1.071},{"s":"77K","x":114,"y":1.076},{"s":"77K","x":120,"y":1.08},{"s":"77K","x":127,"y":1.082},{"s":"77K","x":134,"y":1.083},{"s":"77K","x":141,"y":1.085},{"s":"77K","x":148,"y":1.086},{"s":"77K","x":155,"y":1.087},{"s":"77K","x":162,"y":1.088},{"s":"77K","x":168,"y":1.089},{"s":"77K","x":171,"y":1.078},{"s":"77K","x":174,"y":1.088},{"s":"77K","x":180,"y":1.089},{"s":"77K","x":187,"y":1.088},{"s":"77K","x":194,"y":1.089},{"s":"77K","x":202,"y":1.09},{"s":"77K","x":210,"y":1.089},{"s":"77K","x":218,"y":1.091},{"s":"77K","x":226,"y":1.09},{"s":"77K","x":234,"y":1.09},{"s":"77K","x":242,"y":1.091},{"s":"77K","x":250,"y":1.09},{"s":"77K","x":258,"y":1.089},{"s":"77K","x":266,"y":1.09},{"s":"77K","x":274,"y":1.091},{"s":"77K","x":282,"y":1.09},{"s":"77K","x":290,"y":1.091},{"s":"77K","x":298,"y":1.09},{"s":"77K","x":306,"y":1.091},{"s":"77K","x":314,"y":1.091},{"s":"77K","x":320,"y":1.092},{"s":"77K","x":326,"y":1.093},{"s":"77K","x":333,"y":1.09},{"s":"77K","x":340,"y":1.088},{"s":"77K","x":347,"y":1.087},{"s":"77K","x":353,"y":1.085},{"s":"77K","x":359,"y":1.084},{"s":"77K","x":366,"y":1.087},{"s":"77K","x":373,"y":1.089},{"s":"77K","x":380,"y":1.09},{"s":"77K","x":386,"y":1.091},{"s":"77K","x":393,"y":1.088},{"s":"77K","x":400,"y":1.087},{"s":"77K","x":407,"y":1.086},{"s":"77K","x":414,"y":1.087},{"s":"77K","x":421,"y":1.086},{"s":"77K","x":428,"y":1.087},{"s":"77K","x":435,"y":1.085},{"s":"77K","x":441,"y":1.082},{"s":"77K","x":447,"y":1.08},{"s":"77K","x":453,"y":1.077},{"s":"77K","x":459,"y":1.075},{"s":"77K","x":466,"y":1.074},{"s":"77K","x":473,"y":1.071},{"s":"77K","x":480,"y":1.069},{"s":"77K","x":487,"y":1.067},{"s":"77K","x":494,"y":1.065},{"s":"77K","x":501,"y":1.063},{"s":"77K","x":508,"y":1.061},{"s":"77K","x":515,"y":1.059},{"s":"77K","x":522,"y":1.057},{"s":"77K","x":529,"y":1.055},{"s":"77K","x":535,"y":1.053},{"s":"77K","x":540,"y":1.053},{"s":"77K","x":545,"y":1.054},{"s":"77K","x":548,"y":1.072},{"s":"77K","x":550,"y":1.04},{"s":"77K","x":553,"y":1.08},{"s":"77K","x":555,"y":1.03},{"s":"77K","x":558,"y":1.078},{"s":"77K","x":560,"y":1.022},{"s":"77K","x":563,"y":1.076},{"s":"77K","x":565,"y":1.018},{"s":"77K","x":568,"y":1.07},{"s":"77K","x":570,"y":1.025},{"s":"77K","x":573,"y":1.066},{"s":"77K","x":576,"y":1.035},{"s":"77K","x":579,"y":1.068},{"s":"77K","x":582,"y":1.045},{"s":"77K","x":586,"y":1.064},{"s":"77K","x":590,"y":1.055},{"s":"77K","x":594,"y":1.066},{"s":"77K","x":598,"y":1.06},{"s":"77K","x":602,"y":1.062},{"s":"77K","x":607,"y":1.058},{"s":"77K","x":613,"y":1.052},{"s":"77K","x":619,"y":1.047},{"s":"77K","x":625,"y":1.043},{"s":"77K","x":631,"y":1.04},{"s":"77K","x":637,"y":1.042},{"s":"77K","x":643,"y":1.045},{"s":"77K","x":649,"y":1.043},{"s":"77K","x":655,"y":1.046},{"s":"77K","x":661,"y":1.042},{"s":"77K","x":667,"y":1.045},{"s":"77K","x":673,"y":1.041},{"s":"77K","x":679,"y":1.045},{"s":"77K","x":685,"y":1.04},{"s":"77K","x":691,"y":1.044},{"s":"77K","x":697,"y":1.039},{"s":"77K","x":703,"y":1.043},{"s":"77K","x":710,"y":1.038},{"s":"77K","x":717,"y":1.042},{"s":"77K","x":724,"y":1.037},{"s":"77K","x":731,"y":1.041},{"s":"77K","x":738,"y":1.036},{"s":"77K","x":745,"y":1.04},{"s":"77K","x":752,"y":1.035},{"s":"77K","x":759,"y":1.039},{"s":"77K","x":766,"y":1.034},{"s":"77K","x":773,"y":1.038},{"s":"77K","x":780,"y":1.033},{"s":"77K","x":787,"y":1.037},{"s":"77K","x":794,"y":1.032},{"s":"77K","x":801,"y":1.036},{"s":"77K","x":808,"y":1.031},{"s":"77K","x":815,"y":1.035},{"s":"77K","x":822,"y":1.03},{"s":"77K","x":829,"y":1.034},{"s":"77K","x":836,"y":1.029},{"s":"77K","x":843,"y":1.033},{"s":"77K","x":850,"y":1.028},{"s":"77K","x":857,"y":1.032},{"s":"77K","x":864,"y":1.027},{"s":"77K","x":871,"y":1.031},{"s":"77K","x":878,"y":1.027},{"s":"77K","x":885,"y":1.03},{"s":"77K","x":892,"y":1.026},{"s":"77K","x":899,"y":1.03},{"s":"77K","x":906,"y":1.025},{"s":"77K","x":913,"y":1.029},{"s":"77K","x":920,"y":1.025},{"s":"77K","x":927,"y":1.029},{"s":"77K","x":934,"y":1.024},{"s":"77K","x":941,"y":1.028},{"s":"77K","x":948,"y":1.024},{"s":"77K","x":955,"y":1.028},{"s":"77K","x":962,"y":1.023},{"s":"77K","x":969,"y":1.027},{"s":"77K","x":976,"y":1.023},{"s":"77K","x":983,"y":1.027},{"s":"77K","x":990,"y":1.023},{"s":"77K","x":1000,"y":1.026},
{"s":"91K","x":44,"y":1.044},{"s":"91K","x":50,"y":1.039},{"s":"91K","x":56,"y":1.034},{"s":"91K","x":62,"y":1.029},{"s":"91K","x":68,"y":1.024},{"s":"91K","x":75,"y":1.021},{"s":"91K","x":81,"y":1.02},{"s":"91K","x":87,"y":1.023},{"s":"91K","x":93,"y":1.03},{"s":"91K","x":99,"y":1.038},{"s":"91K","x":105,"y":1.045},{"s":"91K","x":111,"y":1.051},{"s":"91K","x":117,"y":1.056},{"s":"91K","x":123,"y":1.06},{"s":"91K","x":129,"y":1.063},{"s":"91K","x":136,"y":1.065},{"s":"91K","x":143,"y":1.067},{"s":"91K","x":150,"y":1.067},{"s":"91K","x":157,"y":1.068},{"s":"91K","x":164,"y":1.069},{"s":"91K","x":170,"y":1.071},{"s":"91K","x":172,"y":1.056},{"s":"91K","x":175,"y":1.067},{"s":"91K","x":180,"y":1.069},{"s":"91K","x":187,"y":1.07},{"s":"91K","x":194,"y":1.069},{"s":"91K","x":202,"y":1.07},{"s":"91K","x":210,"y":1.069},{"s":"91K","x":218,"y":1.07},{"s":"91K","x":226,"y":1.07},{"s":"91K","x":234,"y":1.069},{"s":"91K","x":242,"y":1.071},{"s":"91K","x":250,"y":1.07},{"s":"91K","x":258,"y":1.07},{"s":"91K","x":266,"y":1.071},{"s":"91K","x":274,"y":1.07},{"s":"91K","x":282,"y":1.071},{"s":"91K","x":290,"y":1.07},{"s":"91K","x":298,"y":1.071},{"s":"91K","x":306,"y":1.071},{"s":"91K","x":314,"y":1.072},{"s":"91K","x":320,"y":1.073},{"s":"91K","x":326,"y":1.074},{"s":"91K","x":333,"y":1.071},{"s":"91K","x":340,"y":1.069},{"s":"91K","x":347,"y":1.068},{"s":"91K","x":353,"y":1.067},{"s":"91K","x":359,"y":1.067},{"s":"91K","x":366,"y":1.07},{"s":"91K","x":373,"y":1.072},{"s":"91K","x":380,"y":1.074},{"s":"91K","x":387,"y":1.075},{"s":"91K","x":393,"y":1.072},{"s":"91K","x":400,"y":1.07},{"s":"91K","x":407,"y":1.069},{"s":"91K","x":414,"y":1.069},{"s":"91K","x":421,"y":1.069},{"s":"91K","x":428,"y":1.07},{"s":"91K","x":435,"y":1.07},{"s":"91K","x":441,"y":1.069},{"s":"91K","x":447,"y":1.066},{"s":"91K","x":453,"y":1.064},{"s":"91K","x":459,"y":1.062},{"s":"91K","x":466,"y":1.06},{"s":"91K","x":473,"y":1.059},{"s":"91K","x":480,"y":1.058},{"s":"91K","x":487,"y":1.057},{"s":"91K","x":494,"y":1.056},{"s":"91K","x":501,"y":1.055},{"s":"91K","x":508,"y":1.053},{"s":"91K","x":515,"y":1.052},{"s":"91K","x":522,"y":1.05},{"s":"91K","x":529,"y":1.049},{"s":"91K","x":535,"y":1.048},{"s":"91K","x":540,"y":1.047},{"s":"91K","x":545,"y":1.048},{"s":"91K","x":547,"y":1.064},{"s":"91K","x":550,"y":1.034},{"s":"91K","x":552,"y":1.076},{"s":"91K","x":555,"y":1.024},{"s":"91K","x":557,"y":1.072},{"s":"91K","x":560,"y":1.02},{"s":"91K","x":562,"y":1.07},{"s":"91K","x":565,"y":1.016},{"s":"91K","x":567,"y":1.066},{"s":"91K","x":570,"y":1.022},{"s":"91K","x":572,"y":1.062},{"s":"91K","x":575,"y":1.03},{"s":"91K","x":578,"y":1.064},{"s":"91K","x":581,"y":1.04},{"s":"91K","x":585,"y":1.058},{"s":"91K","x":589,"y":1.048},{"s":"91K","x":593,"y":1.06},{"s":"91K","x":597,"y":1.052},{"s":"91K","x":601,"y":1.056},{"s":"91K","x":607,"y":1.052},{"s":"91K","x":613,"y":1.046},{"s":"91K","x":619,"y":1.041},{"s":"91K","x":625,"y":1.037},{"s":"91K","x":631,"y":1.035},{"s":"91K","x":637,"y":1.038},{"s":"91K","x":643,"y":1.041},{"s":"91K","x":649,"y":1.039},{"s":"91K","x":655,"y":1.042},{"s":"91K","x":661,"y":1.038},{"s":"91K","x":667,"y":1.041},{"s":"91K","x":673,"y":1.036},{"s":"91K","x":679,"y":1.04},{"s":"91K","x":685,"y":1.035},{"s":"91K","x":691,"y":1.039},{"s":"91K","x":697,"y":1.034},{"s":"91K","x":703,"y":1.038},{"s":"91K","x":710,"y":1.033},{"s":"91K","x":717,"y":1.037},{"s":"91K","x":724,"y":1.032},{"s":"91K","x":731,"y":1.036},{"s":"91K","x":738,"y":1.031},{"s":"91K","x":745,"y":1.035},{"s":"91K","x":752,"y":1.03},{"s":"91K","x":759,"y":1.034},{"s":"91K","x":766,"y":1.029},{"s":"91K","x":773,"y":1.033},{"s":"91K","x":780,"y":1.029},{"s":"91K","x":787,"y":1.032},{"s":"91K","x":794,"y":1.028},{"s":"91K","x":801,"y":1.032},{"s":"91K","x":808,"y":1.027},{"s":"91K","x":815,"y":1.031},{"s":"91K","x":822,"y":1.027},{"s":"91K","x":829,"y":1.03},{"s":"91K","x":836,"y":1.026},{"s":"91K","x":843,"y":1.03},{"s":"91K","x":850,"y":1.025},{"s":"91K","x":857,"y":1.029},{"s":"91K","x":864,"y":1.025},{"s":"91K","x":871,"y":1.028},{"s":"91K","x":878,"y":1.024},{"s":"91K","x":885,"y":1.028},{"s":"91K","x":892,"y":1.024},{"s":"91K","x":899,"y":1.027},{"s":"91K","x":906,"y":1.023},{"s":"91K","x":913,"y":1.027},{"s":"91K","x":920,"y":1.023},{"s":"91K","x":927,"y":1.026},{"s":"91K","x":934,"y":1.022},{"s":"91K","x":941,"y":1.026},{"s":"91K","x":948,"y":1.022},{"s":"91K","x":955,"y":1.026},{"s":"91K","x":962,"y":1.022},{"s":"91K","x":969,"y":1.025},{"s":"91K","x":976,"y":1.021},{"s":"91K","x":983,"y":1.025},{"s":"91K","x":990,"y":1.021},{"s":"91K","x":1000,"y":1.024},
{"s":"143K","x":44,"y":1.022},{"s":"143K","x":50,"y":1.019},{"s":"143K","x":56,"y":1.015},{"s":"143K","x":62,"y":1.011},{"s":"143K","x":68,"y":1.008},{"s":"143K","x":75,"y":1.004},{"s":"143K","x":81,"y":1.002},{"s":"143K","x":87,"y":1.004},{"s":"143K","x":93,"y":1.01},{"s":"143K","x":99,"y":1.018},{"s":"143K","x":105,"y":1.026},{"s":"143K","x":111,"y":1.032},{"s":"143K","x":117,"y":1.037},{"s":"143K","x":123,"y":1.041},{"s":"143K","x":129,"y":1.044},{"s":"143K","x":136,"y":1.046},{"s":"143K","x":143,"y":1.048},{"s":"143K","x":150,"y":1.049},{"s":"143K","x":157,"y":1.05},{"s":"143K","x":164,"y":1.051},{"s":"143K","x":170,"y":1.054},{"s":"143K","x":172,"y":1.037},{"s":"143K","x":175,"y":1.049},{"s":"143K","x":180,"y":1.051},{"s":"143K","x":187,"y":1.052},{"s":"143K","x":194,"y":1.051},{"s":"143K","x":202,"y":1.052},{"s":"143K","x":210,"y":1.053},{"s":"143K","x":218,"y":1.052},{"s":"143K","x":226,"y":1.053},{"s":"143K","x":234,"y":1.053},{"s":"143K","x":242,"y":1.053},{"s":"143K","x":250,"y":1.054},{"s":"143K","x":258,"y":1.053},{"s":"143K","x":266,"y":1.054},{"s":"143K","x":274,"y":1.054},{"s":"143K","x":282,"y":1.054},{"s":"143K","x":290,"y":1.055},{"s":"143K","x":298,"y":1.054},{"s":"143K","x":306,"y":1.055},{"s":"143K","x":314,"y":1.055},{"s":"143K","x":320,"y":1.056},{"s":"143K","x":326,"y":1.057},{"s":"143K","x":333,"y":1.055},{"s":"143K","x":340,"y":1.054},{"s":"143K","x":347,"y":1.053},{"s":"143K","x":353,"y":1.052},{"s":"143K","x":359,"y":1.053},{"s":"143K","x":366,"y":1.055},{"s":"143K","x":373,"y":1.056},{"s":"143K","x":380,"y":1.058},{"s":"143K","x":387,"y":1.059},{"s":"143K","x":393,"y":1.056},{"s":"143K","x":400,"y":1.054},{"s":"143K","x":407,"y":1.053},{"s":"143K","x":414,"y":1.053},{"s":"143K","x":421,"y":1.053},{"s":"143K","x":428,"y":1.054},{"s":"143K","x":435,"y":1.053},{"s":"143K","x":441,"y":1.053},{"s":"143K","x":447,"y":1.05},{"s":"143K","x":453,"y":1.048},{"s":"143K","x":459,"y":1.046},{"s":"143K","x":466,"y":1.045},{"s":"143K","x":473,"y":1.045},{"s":"143K","x":480,"y":1.045},{"s":"143K","x":487,"y":1.046},{"s":"143K","x":494,"y":1.046},{"s":"143K","x":501,"y":1.044},{"s":"143K","x":508,"y":1.043},{"s":"143K","x":515,"y":1.042},{"s":"143K","x":522,"y":1.041},{"s":"143K","x":529,"y":1.04},{"s":"143K","x":535,"y":1.039},{"s":"143K","x":540,"y":1.038},{"s":"143K","x":545,"y":1.04},{"s":"143K","x":548,"y":1.058},{"s":"143K","x":551,"y":1.028},{"s":"143K","x":553,"y":1.068},{"s":"143K","x":556,"y":1.02},{"s":"143K","x":558,"y":1.064},{"s":"143K","x":561,"y":1.018},{"s":"143K","x":564,"y":1.06},{"s":"143K","x":566,"y":1.016},{"s":"143K","x":569,"y":1.056},{"s":"143K","x":571,"y":1.022},{"s":"143K","x":574,"y":1.052},{"s":"143K","x":577,"y":1.028},{"s":"143K","x":580,"y":1.054},{"s":"143K","x":583,"y":1.034},{"s":"143K","x":587,"y":1.05},{"s":"143K","x":591,"y":1.04},{"s":"143K","x":595,"y":1.05},{"s":"143K","x":599,"y":1.044},{"s":"143K","x":603,"y":1.045},{"s":"143K","x":608,"y":1.041},{"s":"143K","x":614,"y":1.036},{"s":"143K","x":620,"y":1.031},{"s":"143K","x":626,"y":1.028},{"s":"143K","x":632,"y":1.027},{"s":"143K","x":638,"y":1.031},{"s":"143K","x":644,"y":1.034},{"s":"143K","x":650,"y":1.032},{"s":"143K","x":656,"y":1.036},{"s":"143K","x":662,"y":1.032},{"s":"143K","x":668,"y":1.035},{"s":"143K","x":674,"y":1.031},{"s":"143K","x":680,"y":1.035},{"s":"143K","x":686,"y":1.03},{"s":"143K","x":692,"y":1.034},{"s":"143K","x":698,"y":1.029},{"s":"143K","x":704,"y":1.033},{"s":"143K","x":711,"y":1.028},{"s":"143K","x":718,"y":1.032},{"s":"143K","x":725,"y":1.027},{"s":"143K","x":732,"y":1.031},{"s":"143K","x":739,"y":1.027},{"s":"143K","x":746,"y":1.03},{"s":"143K","x":753,"y":1.026},{"s":"143K","x":760,"y":1.03},{"s":"143K","x":767,"y":1.025},{"s":"143K","x":774,"y":1.029},{"s":"143K","x":781,"y":1.025},{"s":"143K","x":788,"y":1.028},{"s":"143K","x":795,"y":1.024},{"s":"143K","x":802,"y":1.028},{"s":"143K","x":809,"y":1.024},{"s":"143K","x":816,"y":1.027},{"s":"143K","x":823,"y":1.023},{"s":"143K","x":830,"y":1.027},{"s":"143K","x":837,"y":1.023},{"s":"143K","x":844,"y":1.026},{"s":"143K","x":851,"y":1.022},{"s":"143K","x":858,"y":1.026},{"s":"143K","x":865,"y":1.022},{"s":"143K","x":872,"y":1.025},{"s":"143K","x":879,"y":1.021},{"s":"143K","x":886,"y":1.025},{"s":"143K","x":893,"y":1.021},{"s":"143K","x":900,"y":1.024},{"s":"143K","x":907,"y":1.02},{"s":"143K","x":914,"y":1.024},{"s":"143K","x":921,"y":1.02},{"s":"143K","x":928,"y":1.024},{"s":"143K","x":935,"y":1.02},{"s":"143K","x":942,"y":1.023},{"s":"143K","x":949,"y":1.019},{"s":"143K","x":956,"y":1.023},{"s":"143K","x":963,"y":1.019},{"s":"143K","x":970,"y":1.023},{"s":"143K","x":977,"y":1.019},{"s":"143K","x":984,"y":1.022},{"s":"143K","x":991,"y":1.019},{"s":"143K","x":1000,"y":1.022},
{"s":"190K","x":44,"y":1.022},{"s":"190K","x":50,"y":1.02},{"s":"190K","x":56,"y":1.016},{"s":"190K","x":62,"y":1.012},{"s":"190K","x":68,"y":1.008},{"s":"190K","x":74,"y":1.004},{"s":"190K","x":80,"y":0.999},{"s":"190K","x":86,"y":0.995},{"s":"190K","x":90,"y":0.994},{"s":"190K","x":94,"y":0.996},{"s":"190K","x":99,"y":1.002},{"s":"190K","x":105,"y":1.009},{"s":"190K","x":111,"y":1.015},{"s":"190K","x":117,"y":1.019},{"s":"190K","x":123,"y":1.022},{"s":"190K","x":130,"y":1.025},{"s":"190K","x":137,"y":1.027},{"s":"190K","x":144,"y":1.028},{"s":"190K","x":151,"y":1.029},{"s":"190K","x":158,"y":1.03},{"s":"190K","x":165,"y":1.031},{"s":"190K","x":170,"y":1.033},{"s":"190K","x":172,"y":1.024},{"s":"190K","x":175,"y":1.03},{"s":"190K","x":180,"y":1.032},{"s":"190K","x":187,"y":1.032},{"s":"190K","x":194,"y":1.033},{"s":"190K","x":204,"y":1.033},{"s":"190K","x":212,"y":1.034},{"s":"190K","x":220,"y":1.034},{"s":"190K","x":228,"y":1.035},{"s":"190K","x":236,"y":1.035},{"s":"190K","x":245,"y":1.036},{"s":"190K","x":254,"y":1.036},{"s":"190K","x":263,"y":1.036},{"s":"190K","x":272,"y":1.037},{"s":"190K","x":281,"y":1.037},{"s":"190K","x":290,"y":1.037},{"s":"190K","x":298,"y":1.038},{"s":"190K","x":306,"y":1.038},{"s":"190K","x":314,"y":1.038},{"s":"190K","x":320,"y":1.039},{"s":"190K","x":326,"y":1.039},{"s":"190K","x":333,"y":1.038},{"s":"190K","x":340,"y":1.038},{"s":"190K","x":347,"y":1.037},{"s":"190K","x":353,"y":1.036},{"s":"190K","x":359,"y":1.036},{"s":"190K","x":366,"y":1.038},{"s":"190K","x":373,"y":1.039},{"s":"190K","x":380,"y":1.04},{"s":"190K","x":387,"y":1.041},{"s":"190K","x":393,"y":1.039},{"s":"190K","x":400,"y":1.038},{"s":"190K","x":407,"y":1.037},{"s":"190K","x":414,"y":1.037},{"s":"190K","x":421,"y":1.037},{"s":"190K","x":428,"y":1.039},{"s":"190K","x":435,"y":1.041},{"s":"190K","x":440,"y":1.042},{"s":"190K","x":446,"y":1.039},{"s":"190K","x":453,"y":1.036},{"s":"190K","x":459,"y":1.034},{"s":"190K","x":466,"y":1.034},{"s":"190K","x":473,"y":1.033},{"s":"190K","x":480,"y":1.033},{"s":"190K","x":487,"y":1.034},{"s":"190K","x":494,"y":1.034},{"s":"190K","x":501,"y":1.033},{"s":"190K","x":508,"y":1.031},{"s":"190K","x":515,"y":1.029},{"s":"190K","x":522,"y":1.028},{"s":"190K","x":529,"y":1.029},{"s":"190K","x":535,"y":1.03},{"s":"190K","x":540,"y":1.029},{"s":"190K","x":545,"y":1.03},{"s":"190K","x":547,"y":1.046},{"s":"190K","x":550,"y":1.022},{"s":"190K","x":552,"y":1.056},{"s":"190K","x":555,"y":1.018},{"s":"190K","x":557,"y":1.052},{"s":"190K","x":560,"y":1.016},{"s":"190K","x":563,"y":1.05},{"s":"190K","x":565,"y":1.017},{"s":"190K","x":568,"y":1.046},{"s":"190K","x":570,"y":1.02},{"s":"190K","x":573,"y":1.042},{"s":"190K","x":576,"y":1.024},{"s":"190K","x":579,"y":1.044},{"s":"190K","x":582,"y":1.026},{"s":"190K","x":586,"y":1.04},{"s":"190K","x":590,"y":1.03},{"s":"190K","x":594,"y":1.036},{"s":"190K","x":598,"y":1.03},{"s":"190K","x":603,"y":1.028},{"s":"190K","x":609,"y":1.027},{"s":"190K","x":615,"y":1.025},{"s":"190K","x":621,"y":1.023},{"s":"190K","x":627,"y":1.021},{"s":"190K","x":633,"y":1.019},{"s":"190K","x":639,"y":1.019},{"s":"190K","x":645,"y":1.021},{"s":"190K","x":651,"y":1.023},{"s":"190K","x":657,"y":1.024},{"s":"190K","x":663,"y":1.025},{"s":"190K","x":669,"y":1.024},{"s":"190K","x":675,"y":1.026},{"s":"190K","x":681,"y":1.023},{"s":"190K","x":687,"y":1.027},{"s":"190K","x":693,"y":1.023},{"s":"190K","x":699,"y":1.027},{"s":"190K","x":705,"y":1.022},{"s":"190K","x":712,"y":1.026},{"s":"190K","x":719,"y":1.022},{"s":"190K","x":726,"y":1.026},{"s":"190K","x":733,"y":1.021},{"s":"190K","x":740,"y":1.025},{"s":"190K","x":747,"y":1.021},{"s":"190K","x":754,"y":1.025},{"s":"190K","x":761,"y":1.02},{"s":"190K","x":768,"y":1.024},{"s":"190K","x":775,"y":1.02},{"s":"190K","x":782,"y":1.024},{"s":"190K","x":789,"y":1.02},{"s":"190K","x":796,"y":1.023},{"s":"190K","x":803,"y":1.019},{"s":"190K","x":810,"y":1.023},{"s":"190K","x":817,"y":1.019},{"s":"190K","x":824,"y":1.023},{"s":"190K","x":831,"y":1.019},{"s":"190K","x":838,"y":1.022},{"s":"190K","x":845,"y":1.018},{"s":"190K","x":852,"y":1.022},{"s":"190K","x":859,"y":1.018},{"s":"190K","x":866,"y":1.022},{"s":"190K","x":873,"y":1.019},{"s":"190K","x":880,"y":1.022},{"s":"190K","x":887,"y":1.018},{"s":"190K","x":894,"y":1.021},{"s":"190K","x":901,"y":1.018},{"s":"190K","x":908,"y":1.021},{"s":"190K","x":915,"y":1.018},{"s":"190K","x":922,"y":1.021},{"s":"190K","x":929,"y":1.018},{"s":"190K","x":936,"y":1.021},{"s":"190K","x":943,"y":1.018},{"s":"190K","x":950,"y":1.021},{"s":"190K","x":957,"y":1.018},{"s":"190K","x":964,"y":1.021},{"s":"190K","x":971,"y":1.018},{"s":"190K","x":978,"y":1.021},{"s":"190K","x":985,"y":1.018},{"s":"190K","x":992,"y":1.021},{"s":"190K","x":1000,"y":1.019},
{"s":"300K","x":44,"y":1.0},{"s":"300K","x":1000,"y":1.0}
],
"annTop":[{"x":161.4,"y":0.9738,"t":"Underdoped T"},{"x":567.2,"y":0.9738,"t":"=32K"}],
"annTopSub":[{"x":542.5,"y":0.9738,"t":"C"}],
"annBot":[{"x":159,"y":1.0067,"t":"Optimally Doped T"},{"x":685.8,"y":1.0067,"t":"=80K"}],
"annBotSub":[{"x":661.4,"y":1.0067,"t":"C"}]
},
"vconcat":[
{
"width":409,"height":315,
"resolve":{"axis":{"x":"independent","y":"independent"}},
"layer":[
{
"data":{"name":"top"},
"mark":{"type":"line","color":"black","strokeWidth":1.2},
"encoding":{
"x":{"field":"x","type":"quantitative","scale":{"domain":[0,1000],"nice":false,"zero":false},
"axis":{"orient":"bottom","values":[0,50,100,150,200,250,300,350,400,450,500,550,600,650,700,750,800,850,900,950,1000],"labels":false,"title":null,
"tickSize":{"condition":{"test":"datum.value % 200 === 0","value":-7},"value":-4}}},
"y":{"field":"y","type":"quantitative","scale":{"domain":[0.95,1.2],"nice":false,"zero":false},
"axis":{"orient":"left","values":[0.95,0.975,1.0,1.025,1.05,1.075,1.1,1.125,1.15,1.175,1.2],
"labelExpr":"abs(datum.value*20 - round(datum.value*20)) < 0.01 && datum.value > 0.96 ? format(datum.value,'.2f') : ''",
"tickSize":{"condition":{"test":"abs(datum.value*20 - round(datum.value*20)) < 0.01","value":-7},"value":-4},
"labelPadding":9,
"title":"Rₜ(ω) / R₃₀₀ₖ(ω)","titleX":-74,"titleY":263,"titleAngle":-90,"titleAlign":"center","titleBaseline":"middle","titleFontSize":26}},
"strokeDash":{"field":"s","type":"nominal",
"scale":{"domain":["10K","40K","70K","120K","190K","250K","300K"],"range":[[4,2],[1,0],[1.5,4],[5,3],[6,2,1.5,2],[1.5,1.5],[1,0]]},
"legend":{"orient":"none","legendX":316,"legendY":21,"title":null}}
}
},
{
"data":{"name":"annTop"},
"mark":{"type":"text","align":"left","baseline":"alphabetic","fontSize":22,"font":"DejaVu Sans","color":"black"},
"encoding":{
"x":{"field":"x","type":"quantitative","axis":{"orient":"top","values":[0,50,100,150,200,250,300,350,400,450,500,550,600,650,700,750,800,850,900,950,1000],"labels":false,"title":null,
"tickSize":{"condition":{"test":"datum.value % 200 === 0","value":-7},"value":-4}}},
"y":{"field":"y","type":"quantitative","axis":{"orient":"right","values":[0.95,0.975,1.0,1.025,1.05,1.075,1.1,1.125,1.15,1.175,1.2],"labels":false,"title":null,
"tickSize":{"condition":{"test":"abs(datum.value*20 - round(datum.value*20)) < 0.01","value":-7},"value":-4}}},
"text":{"field":"t"}
}
},
{
"data":{"name":"annTopSub"},
"mark":{"type":"text","align":"left","baseline":"alphabetic","fontSize":14,"dy":6,"font":"DejaVu Sans","color":"black"},
"encoding":{
"x":{"field":"x","type":"quantitative","axis":null},
"y":{"field":"y","type":"quantitative","axis":null},
"text":{"field":"t"}
}
}
]
},
{
"width":409,"height":315,
"resolve":{"axis":{"x":"independent","y":"independent"}},
"layer":[
{
"data":{"name":"bot"},
"mark":{"type":"line","color":"black","strokeWidth":1.2},
"encoding":{
"x":{"field":"x","type":"quantitative","scale":{"domain":[0,1000],"nice":false,"zero":false},
"axis":{"orient":"bottom","values":[0,50,100,150,200,250,300,350,400,450,500,550,600,650,700,750,800,850,900,950,1000],
"labelExpr":"datum.value % 200 === 0 ? format(datum.value,'d') : ''","labelFlush":false,"labelOverlap":false,"labelPadding":15,
"tickSize":{"condition":{"test":"datum.value % 200 === 0","value":-7},"value":-4},
"title":"Wave number [cm⁻¹]","titleFontSize":22,"titlePadding":9}},
"y":{"field":"y","type":"quantitative","scale":{"domain":[0.98,1.12],"nice":false,"zero":false},
"axis":{"orient":"left","values":[0.98,0.99,1.0,1.01,1.02,1.03,1.04,1.05,1.06,1.07,1.08,1.09,1.1,1.11,1.12],
"labelExpr":"abs(datum.value*50 - round(datum.value*50)) < 0.01 ? format(datum.value,'.2f') : ''",
"tickSize":{"condition":{"test":"abs(datum.value*50 - round(datum.value*50)) < 0.01","value":-7},"value":-4},
"labelPadding":9,"labelOverlap":false,"title":null}},
"strokeDash":{"field":"s","type":"nominal",
"scale":{"domain":["10K","40K","77K","91K","143K","190K","300K"],"range":[[4,2],[1,0],[1.5,5],[5,1.5,1.5,1.5],[5,3,1.5,3],[1.5,1.5],[1,0]]},
"legend":{"orient":"none","legendX":319,"legendY":9,"title":null}}
}
},
{
"data":{"name":"annBot"},
"mark":{"type":"text","align":"left","baseline":"alphabetic","fontSize":22,"font":"DejaVu Sans","color":"black"},
"encoding":{
"x":{"field":"x","type":"quantitative","axis":{"orient":"top","values":[0,50,100,150,200,250,300,350,400,450,500,550,600,650,700,750,800,850,900,950,1000],"labels":false,"title":null,
"tickSize":{"condition":{"test":"datum.value % 200 === 0","value":-7},"value":-4}}},
"y":{"field":"y","type":"quantitative","axis":{"orient":"right","values":[0.98,0.99,1.0,1.01,1.02,1.03,1.04,1.05,1.06,1.07,1.08,1.09,1.1,1.11,1.12],"labels":false,"title":null,
"tickSize":{"condition":{"test":"abs(datum.value*50 - round(datum.value*50)) < 0.01","value":-7},"value":-4}}},
"text":{"field":"t"}
}
},
{
"data":{"name":"annBotSub"},
"mark":{"type":"text","align":"left","baseline":"alphabetic","fontSize":14,"dy":6,"font":"DejaVu Sans","color":"black"},
"encoding":{
"x":{"field":"x","type":"quantitative","axis":null},
"y":{"field":"y","type":"quantitative","axis":null},
"text":{"field":"t"}
}
}
]
}
],
"resolve":{"scale":{"strokeDash":"independent"},"legend":{"strokeDash":"independent"}},
"config":{
"view":{"stroke":null},
"axis":{"domainColor":"black","domainWidth":1.5,"tickColor":"black","tickWidth":1.3,"grid":false,
"labelFont":"DejaVu Sans","labelFontWeight":"bold","labelFontSize":15,"labelColor":"black",
"titleFont":"DejaVu Sans","titleColor":"black","titleFontWeight":"normal"},
"legend":{"symbolType":"M-2.2,0H2.2","symbolSize":484,"symbolStrokeWidth":1.4,"symbolStrokeColor":"black","symbolFillColor":"transparent",
"labelFont":"DejaVu Sans","labelFontWeight":"bold","labelFontSize":15,"labelColor":"black","labelAlign":"left","labelOffset":18,"rowPadding":3,"padding":0,"gridAlign":"none"}
}
}
